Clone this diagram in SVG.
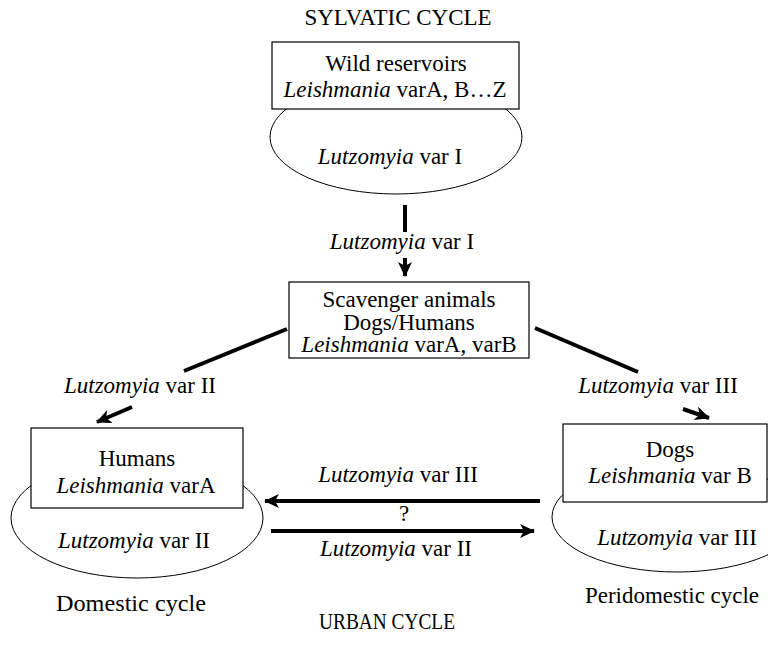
<svg xmlns="http://www.w3.org/2000/svg" width="768" height="660" viewBox="0 0 768 660">
<style>
text{font-family:'Liberation Serif','Times New Roman',serif;font-size:23px;fill:#000;text-anchor:middle}
.i{font-style:italic}
.big{font-size:24px}
.box{fill:#fff;stroke:#000;stroke-width:1.2}
.ell{fill:#fff;stroke:#000;stroke-width:1}
.c{stroke:#000;stroke-width:4;fill:none}
</style>
<defs>
<marker id="ah" markerUnits="userSpaceOnUse" markerWidth="16" markerHeight="16" viewBox="0 0 16 16" refX="14" refY="8" orient="auto">
<path d="M0,1 L15,8 L0,15 L4,8 Z" fill="#000"/>
</marker>
</defs>
<rect width="768" height="660" fill="#fff"/>
<text x="398" y="25" font-size="22">SYLVATIC CYCLE</text>
<g id="wild">
<ellipse class="ell" cx="396" cy="137" rx="126" ry="57"/>
<rect class="box" x="272" y="42" width="247" height="67"/>
<text x="396" y="71">Wild reservoirs</text>
<text x="395" y="97"><tspan class="i">Leishmania</tspan> varA, B…Z</text>
<text x="390" y="164"><tspan class="i">Lutzomyia</tspan> var I</text>
</g>
<g id="scavenger">
<rect class="box" x="289" y="282" width="240" height="76"/>
<text x="409" y="307">Scavenger animals</text>
<text x="409" y="330">Dogs/Humans</text>
<text x="409" y="352"><tspan class="i">Leishmania</tspan> varA, varB</text>
</g>
<g id="humans">
<ellipse class="ell" cx="137" cy="518" rx="126" ry="60"/>
<rect class="box" x="31" y="428" width="212" height="80"/>
<text x="137" y="466">Humans</text>
<text x="136" y="493"><tspan class="i">Leishmania</tspan> varA</text>
<text x="134" y="548"><tspan class="i">Lutzomyia</tspan> var II</text>
<text class="big" x="131" y="611" textLength="150" lengthAdjust="spacingAndGlyphs">Domestic cycle</text>
</g>
<g id="dogs">
<ellipse class="ell" cx="677" cy="517" rx="125" ry="55"/>
<rect class="box" x="563" y="424" width="204" height="78"/>
<text x="670" y="457">Dogs</text>
<text x="670" y="483"><tspan class="i">Leishmania</tspan> var B</text>
<text x="677" y="545"><tspan class="i">Lutzomyia</tspan> var III</text>
<text class="big" x="672" y="603" textLength="174" lengthAdjust="spacingAndGlyphs">Peridomestic cycle</text>
</g>
<g id="connectors">
<line class="c" x1="405" y1="205" x2="405" y2="232"/>
<line class="c" x1="405" y1="258" x2="405" y2="276" marker-end="url(#ah)"/>
<line class="c" x1="287" y1="329" x2="184" y2="371"/>
<line class="c" x1="132" y1="407" x2="97" y2="422" marker-end="url(#ah)"/>
<line class="c" x1="535" y1="328" x2="638" y2="372"/>
<line class="c" x1="683" y1="409" x2="709" y2="418" marker-end="url(#ah)"/>
<line class="c" x1="540" y1="501" x2="265" y2="501" marker-end="url(#ah)"/>
<line class="c" x1="271" y1="531" x2="534" y2="531" marker-end="url(#ah)"/>
</g>
<g id="labels">
<text x="402" y="249"><tspan class="i">Lutzomyia</tspan> var I</text>
<text x="140" y="393"><tspan class="i">Lutzomyia</tspan> var II</text>
<text x="658" y="393"><tspan class="i">Lutzomyia</tspan> var III</text>
<text x="398" y="482"><tspan class="i">Lutzomyia</tspan> var III</text>
<text x="404" y="521">?</text>
<text x="396" y="556"><tspan class="i">Lutzomyia</tspan> var II</text>
</g>
<text x="387" y="629" font-size="23" textLength="136" lengthAdjust="spacingAndGlyphs">URBAN CYCLE</text>
</svg>
